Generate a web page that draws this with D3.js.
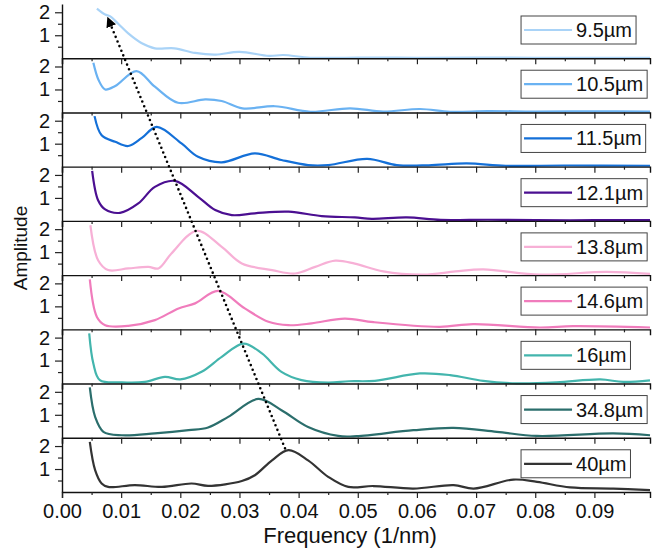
<!DOCTYPE html>
<html>
<head>
<meta charset="utf-8">
<script src="https://cdn.jsdelivr.net/npm/d3@7"></script>
<style>
  body { margin: 0; background: #fff; }
  text { font-family: "Liberation Sans", Arial, sans-serif; fill: #111; }
</style>
</head>
<body>
<svg></svg>
<script>
// sample names, top to bottom
var labels = ["9.5µm", "10.5µm", "11.5µm", "12.1µm", "13.8µm", "14.6µm", "16µm", "34.8µm", "40µm"];
var colors = ["#a9d3f7", "#6ab2f2", "#1470d8", "#4b0f91", "#f7b0d6", "#f07cbc", "#43b5ad", "#2b6e6c", "#333333"];

// [frequency (1/nm), amplitude]
var amp9_5 = [[0.0059,2.16],[0.0073,1.9],[0.0081,1.83],[0.0095,1.5],[0.0112,1.08],[0.0135,0.65],[0.0157,0.43],[0.019,0.43],[0.0225,0.23],[0.026,0.16],[0.030,0.28],[0.035,0.1],[0.0374,0.14],[0.042,0.02],[0.05,0.03],[0.06,0.02],[0.07,0.03],[0.08,0.02],[0.09,0.02],[0.0994,0.02]];
var amp10_5 = [[0.0053,2.16],[0.0062,1.4],[0.0073,1.0],[0.009,1.15],[0.0126,1.8],[0.0157,1.12],[0.0196,0.42],[0.0242,0.57],[0.027,0.5],[0.0305,0.18],[0.036,0.27],[0.042,0.03],[0.0487,0.18],[0.0543,0.04],[0.0605,0.15],[0.0656,0.03],[0.072,0.06],[0.08,0.04],[0.09,0.05],[0.0994,0.04]];
var amp11_5 = [[0.0055,2.2],[0.0067,1.37],[0.009,1.08],[0.0112,0.9],[0.0135,1.25],[0.016,1.73],[0.0202,1.01],[0.023,0.43],[0.027,0.19],[0.0326,0.58],[0.0371,0.29],[0.0416,0.07],[0.045,0.07],[0.0516,0.34],[0.0566,0.07],[0.062,0.06],[0.0684,0.14],[0.075,0.04],[0.085,0.05],[0.0994,0.04]];
var amp12_1 = [[0.0051,2.18],[0.0061,0.9],[0.0073,0.5],[0.0098,0.35],[0.0129,0.76],[0.0157,1.48],[0.0191,1.74],[0.023,1.05],[0.0259,0.47],[0.0287,0.25],[0.0326,0.33],[0.0383,0.4],[0.0439,0.21],[0.0495,0.15],[0.0524,0.09],[0.0583,0.15],[0.064,0.04],[0.072,0.05],[0.08,0.03],[0.09,0.03],[0.0994,0.03]];
var amp13_8 = [[0.0048,2.17],[0.0061,0.65],[0.0078,0.22],[0.0112,0.29],[0.0146,0.36],[0.0163,0.29],[0.0185,0.94],[0.0228,1.93],[0.027,1.23],[0.0304,0.51],[0.0355,0.22],[0.0394,0.07],[0.0428,0.36],[0.0462,0.63],[0.0495,0.5],[0.0543,0.16],[0.0611,0.02],[0.0665,0.16],[0.0712,0.25],[0.0808,0.02],[0.0921,0.14],[0.0994,0.05]];
var amp14_6 = [[0.0047,2.17],[0.0059,0.54],[0.0073,0.18],[0.0112,0.15],[0.0157,0.4],[0.0197,0.91],[0.0225,1.13],[0.0264,1.67],[0.0309,0.91],[0.0349,0.33],[0.0383,0.18],[0.0422,0.26],[0.0478,0.47],[0.0527,0.31],[0.0639,0.11],[0.0695,0.23],[0.0808,0.08],[0.0864,0.14],[0.0994,0.08]];
var amp16 = [[0.0046,2.18],[0.0053,0.87],[0.0064,0.15],[0.0101,0.05],[0.014,0.07],[0.0174,0.29],[0.02,0.18],[0.0236,0.51],[0.027,1.16],[0.0307,1.74],[0.0338,1.31],[0.0371,0.51],[0.0405,0.15],[0.045,0.04],[0.0485,0.1],[0.0529,0.12],[0.0605,0.44],[0.0656,0.37],[0.0712,0.12],[0.0769,0.01],[0.0836,0.05],[0.091,0.18],[0.0949,0.07],[0.0994,0.14]];
var amp34_8 = [[0.0047,2.19],[0.0056,0.91],[0.007,0.26],[0.0101,0.11],[0.0157,0.19],[0.0214,0.33],[0.0247,0.45],[0.0281,0.91],[0.0332,1.69],[0.0371,1.2],[0.0416,0.47],[0.0467,0.08],[0.0498,0.07],[0.0594,0.33],[0.0662,0.43],[0.0735,0.26],[0.0803,0.08],[0.0932,0.19],[0.0994,0.11]];
var amp40 = [[0.0047,2.18],[0.0056,0.95],[0.0067,0.37],[0.0078,0.22],[0.0123,0.3],[0.0169,0.22],[0.0219,0.37],[0.0247,0.27],[0.0304,0.48],[0.0326,0.73],[0.0355,1.38],[0.0383,1.82],[0.0416,1.38],[0.045,0.66],[0.0484,0.22],[0.0526,0.26],[0.0594,0.15],[0.0662,0.3],[0.0696,0.15],[0.0763,0.54],[0.0803,0.44],[0.0859,0.2],[0.0932,0.15],[0.0994,0.08]];
var series = [amp9_5, amp10_5, amp11_5, amp12_1, amp13_8, amp14_6, amp16, amp34_8, amp40];

var freqTicks = [0, 0.01, 0.02, 0.03, 0.04, 0.05, 0.06, 0.07, 0.08, 0.09];
var freqMinor = [0.005, 0.015, 0.025, 0.035, 0.045, 0.055, 0.065, 0.075, 0.085, 0.095];
var ampTicks = [1, 2];
var ampMinor = [0.5, 1.5];

// peak drift arrow: [panel, frequency, amplitude] from 40µm up to 9.5µm
var arrowPts = [[8, 0.0377, 1.9], [0, 0.0080, 1.6]];

var width = 670, height = 553;
var margin = {top: 4, right: 20, bottom: 61, left: 62};
var plotW = width - margin.left - margin.right;
var plotH = height - margin.top - margin.bottom;
var panelH = plotH / labels.length;

var svg = d3.select("svg")
    .attr("width", width)
    .attr("height", height);

var g = svg.append("g")
    .attr("transform", "translate(" + margin.left + "," + margin.top + ")");

var x = d3.scaleLinear().domain([0, 0.0994]).range([0, plotW]);
var y = d3.scaleLinear().domain([0, 2.36]).range([panelH, 0]);

var line = d3.line()
    .x(function(d) { return x(d[0]); })
    .y(function(d) { return y(d[1]); })
    .curve(d3.curveCatmullRom.alpha(0.5));

labels.forEach(function(name, i) {
  var p = g.append("g").attr("transform", "translate(0," + (i * panelH) + ")");
  var last = i == labels.length - 1;

  // curve
  p.append("path")
    .datum(series[i])
    .attr("fill", "none")
    .attr("stroke", colors[i])
    .attr("stroke-width", 2.2)
    .attr("d", line);

  // bottom axis of the panel
  var xa = p.append("g").attr("transform", "translate(0," + panelH + ")");
  xa.call(d3.axisBottom(x).tickValues(freqTicks).tickSize(6).tickPadding(6)
      .tickFormat(last ? d3.format(".2f") : ""));
  xa.append("g").call(d3.axisBottom(x).tickValues(freqMinor).tickSize(3).tickFormat(""))
    .select(".domain").remove();
  xa.selectAll("text").style("font-size", "20px");

  // left axis
  var ya = p.append("g");
  ya.call(d3.axisLeft(y).tickValues(ampTicks).tickSize(7).tickPadding(5).tickSizeOuter(0)
      .tickFormat(d3.format("d")));
  ya.append("g").call(d3.axisLeft(y).tickValues(ampMinor).tickSize(4).tickFormat(""))
    .select(".domain").remove();
  ya.selectAll("text").style("font-size", "20px");

  g.selectAll(".domain").attr("stroke", "#111").attr("stroke-width", 1.4);
  g.selectAll(".tick line").attr("stroke", "#222").attr("stroke-width", 1.2);

  // legend box
  var lg = p.append("g").attr("transform", "translate(" + (x(0.0776) ) + ",12)");
  var rect = lg.append("rect").attr("height", 28).attr("fill", "#fff")
    .attr("stroke", "#444").attr("stroke-width", 1);
  lg.append("line").attr("x1", 3).attr("x2", 51).attr("y1", 14).attr("y2", 14)
    .attr("stroke", colors[i]).attr("stroke-width", 2.2);
  var t = lg.append("text").attr("x", 55).attr("y", 21).style("font-size", "20px").text(name);
  rect.attr("width", 55 + t.node().getComputedTextLength() + 4);
});

// dotted arrow showing peak shift
svg.append("defs").append("marker")
    .attr("id", "head")
    .attr("viewBox", "0 0 10 10")
    .attr("refX", 5).attr("refY", 5)
    .attr("markerWidth", 4).attr("markerHeight", 4)
    .attr("orient", "auto")
  .append("path")
    .attr("d", "M0,0L10,5L0,10z")
    .attr("fill", "#000");

g.append("path")
  .datum(arrowPts)
  .attr("fill", "none")
  .attr("stroke", "#000")
  .attr("stroke-width", 2.6)
  .attr("stroke-linecap", "round")
  .attr("stroke-dasharray", "0,5")
  .attr("marker-end", "url(#head)")
  .attr("d", d3.line()
    .x(function(d) { return x(d[1]); })
    .y(function(d) { return d[0] * panelH + y(d[2]); }));

// axis titles
svg.append("text")
  .attr("x", margin.left + x(0.0487))
  .attr("y", 543)
  .attr("text-anchor", "middle")
  .style("font-size", "22px")
  .text("Frequency (1/nm)");

svg.append("text")
  .attr("transform", "translate(27," + (margin.top + plotH / 2) + ") rotate(-90)")
  .attr("text-anchor", "middle")
  .style("font-size", "19px")
  .text("Amplitude");
</script>
</body>
</html>
